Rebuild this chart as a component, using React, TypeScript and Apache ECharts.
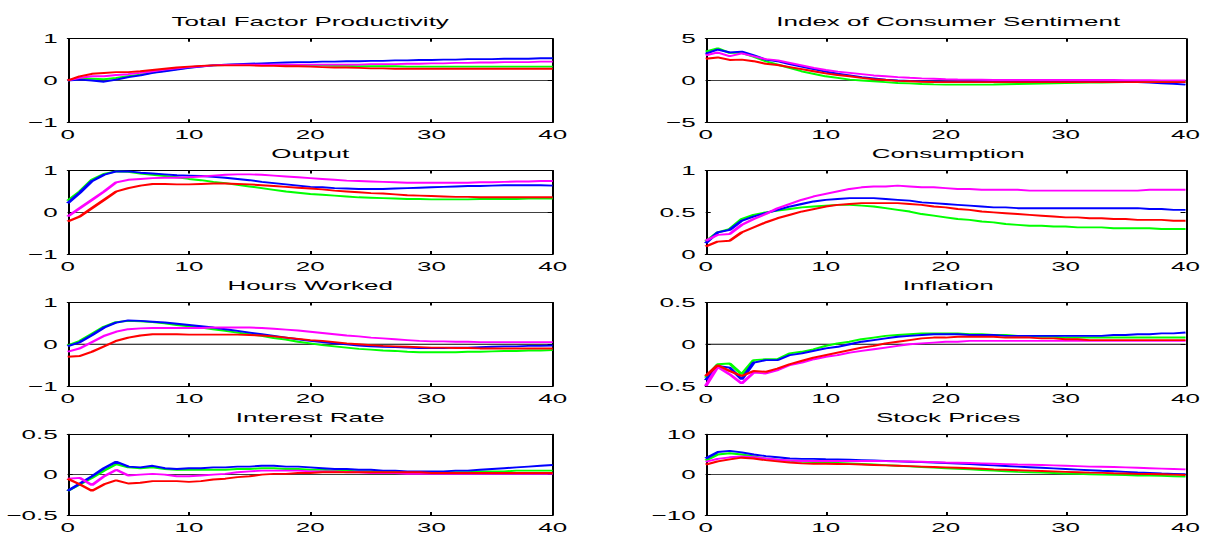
import React, { useEffect, useRef } from "react";
import * as echarts from "echarts";

// Horizons 0..40
const horizons: number[] = Array.from({ length: 41 }, (_, i) => i);

const titles: string[] = [
  "Total Factor Productivity",
  "Index of Consumer Sentiment",
  "Output",
  "Consumption",
  "Hours Worked",
  "Inflation",
  "Interest Rate",
  "Stock Prices",
];

// y-axis ranges (min, max, interval) per panel
const yMins: number[] = [-1, -5, -1, 0, -1, -0.5, -0.5, -10];
const yMaxs: number[] = [1, 5, 1, 1, 1, 0.5, 0.5, 10];
const yIntervals: number[] = [1, 5, 1, 0.5, 1, 0.5, 0.5, 10];
const xTicks: number[] = [0, 10, 20, 30, 40];

// ---- Total Factor Productivity ----
const tfpGreen = [0, .04, .04, .03, .06, .10, .14, .19, .23, .27, .31, .34, .36, .37, .38, .38, .38, .38, .37, .37, .36, .36, .35, .35, .34, .34, .34, .34, .33, .33, .33, .33, .33, .33, .33, .33, .33, .33, .33, .33, .33];
const tfpBlue = [0, .02, 0, -.03, .02, .08, .12, .18, .22, .26, .30, .33, .36, .38, .39, .40, .41, .42, .43, .44, .44, .45, .45, .46, .46, .47, .47, .48, .48, .49, .49, .50, .50, .51, .51, .51, .52, .52, .52, .53, .53];
const tfpMagenta = [0, .06, .10, .10, .13, .15, .18, .22, .26, .29, .32, .34, .36, .37, .38, .38, .38, .38, .38, .38, .38, .38, .38, .38, .38, .39, .39, .39, .40, .40, .41, .41, .42, .42, .43, .43, .44, .44, .44, .45, .45];
const tfpRed = [0, .10, .16, .18, .20, .20, .22, .25, .28, .31, .33, .35, .36, .36, .36, .36, .35, .35, .34, .34, .33, .32, .31, .31, .30, .29, .29, .28, .28, .28, .28, .28, .28, .28, .28, .28, .28, .28, .28, .28, .28];

// ---- Index of Consumer Sentiment ----
const icsGreen = [3.45, 3.85, 3.3, 3.3, 2.85, 2.3, 1.9, 1.5, 1.1, 0.8, 0.5, 0.3, 0.1, 0.0, -0.1, -0.2, -0.3, -0.35, -0.42, -0.47, -0.5, -0.5, -0.5, -0.5, -0.48, -0.45, -0.42, -0.4, -0.37, -0.33, -0.3, -0.28, -0.26, -0.24, -0.22, -0.2, -0.18, -0.17, -0.16, -0.15, -0.15];
const icsBlue = [3.2, 3.7, 3.35, 3.45, 3.0, 2.5, 2.3, 1.95, 1.65, 1.35, 1.05, 0.8, 0.6, 0.4, 0.25, 0.1, 0.0, -0.05, -0.1, -0.12, -0.15, -0.15, -0.14, -0.13, -0.12, -0.1, -0.09, -0.08, -0.07, -0.06, -0.05, -0.06, -0.08, -0.1, -0.13, -0.16, -0.2, -0.26, -0.33, -0.4, -0.5];
const icsMagenta = [3.0, 3.35, 2.9, 3.25, 2.9, 2.55, 2.4, 2.1, 1.8, 1.5, 1.25, 1.05, 0.9, 0.75, 0.6, 0.5, 0.4, 0.32, 0.25, 0.2, 0.15, 0.12, 0.1, 0.08, 0.06, 0.05, 0.05, 0.05, 0.05, 0.05, 0.05, 0.05, 0.05, 0.05, 0.05, 0.04, 0.03, 0.02, 0.01, 0.0, 0.0];
const icsRed = [2.6, 2.75, 2.45, 2.5, 2.3, 2.0, 1.85, 1.6, 1.35, 1.1, 0.85, 0.65, 0.5, 0.3, 0.15, 0.05, -0.05, -0.1, -0.15, -0.18, -0.2, -0.2, -0.2, -0.2, -0.2, -0.2, -0.2, -0.2, -0.2, -0.2, -0.2, -0.2, -0.2, -0.2, -0.2, -0.2, -0.2, -0.2, -0.2, -0.2, -0.2];

// ---- Output ----
const outGreen = [.28, .5, .78, .92, .98, .97, .93, .90, .87, .84, .80, .77, .73, .70, .66, .62, .58, .54, .50, .47, .44, .42, .40, .38, .36, .35, .34, .33, .32, .32, .31, .31, .31, .31, .32, .32, .32, .32, .33, .33, .33];
const outBlue = [.22, .47, .75, .90, .98, .98, .95, .93, .91, .89, .88, .87, .85, .83, .80, .77, .73, .70, .67, .64, .61, .60, .58, .57, .56, .56, .56, .57, .58, .59, .60, .61, .62, .63, .63, .64, .65, .65, .65, .65, .64];
const outMagenta = [-.1, .1, .3, .5, .72, .78, .80, .82, .83, .83, .84, .86, .88, .90, .91, .91, .90, .88, .86, .84, .82, .80, .78, .76, .75, .74, .73, .72, .71, .71, .71, .71, .71, .71, .72, .72, .73, .74, .74, .75, .75];
const outRed = [-.22, -.1, .1, .3, .5, .58, .64, .68, .68, .67, .67, .68, .69, .69, .68, .67, .65, .63, .61, .59, .57, .55, .52, .50, .48, .46, .45, .43, .41, .40, .39, .38, .37, .37, .36, .36, .36, .36, .36, .36, .36];

// ---- Consumption ----
const conGreen = [.15, .26, .30, .42, .47, .50, .52, .54, .56, .57, .58, .59, .59, .58, .57, .55, .53, .51, .48, .46, .44, .42, .41, .39, .38, .36, .35, .34, .34, .33, .33, .32, .32, .32, .31, .31, .31, .31, .30, .30, .30];
const conBlue = [.13, .26, .29, .40, .45, .49, .53, .57, .60, .63, .65, .66, .67, .67, .67, .66, .65, .64, .62, .61, .60, .59, .58, .57, .56, .56, .55, .55, .55, .55, .55, .55, .55, .55, .55, .55, .55, .54, .54, .53, .53];
const conMagenta = [.16, .23, .24, .35, .42, .48, .55, .60, .65, .69, .72, .75, .78, .80, .81, .81, .82, .81, .80, .80, .79, .78, .78, .77, .77, .77, .77, .76, .76, .76, .76, .76, .76, .76, .76, .76, .76, .77, .77, .77, .77];
const conRed = [.09, .15, .16, .26, .32, .38, .43, .47, .51, .54, .57, .59, .60, .61, .61, .61, .61, .60, .59, .57, .56, .54, .53, .51, .50, .49, .48, .47, .46, .45, .44, .44, .43, .43, .42, .42, .41, .41, .41, .40, .40];

// ---- Hours Worked ----
const hrsGreen = [-.03, .08, .25, .42, .53, .56, .55, .53, .50, .46, .43, .40, .36, .32, .28, .24, .20, .15, .11, .06, .02, -.02, -.05, -.08, -.11, -.13, -.15, -.16, -.18, -.19, -.19, -.19, -.19, -.18, -.18, -.17, -.16, -.16, -.15, -.15, -.14];
const hrsBlue = [-.05, .05, .22, .40, .52, .57, .56, .54, .52, .49, .46, .43, .40, .36, .32, .28, .24, .20, .16, .12, .08, .05, .02, 0, -.03, -.05, -.06, -.07, -.08, -.09, -.09, -.09, -.08, -.08, -.07, -.06, -.05, -.05, -.04, -.04, -.03];
const hrsMagenta = [-.18, -.10, .05, .20, .30, .36, .38, .39, .39, .39, .39, .39, .40, .40, .40, .40, .39, .37, .35, .33, .30, .27, .24, .21, .19, .16, .14, .12, .10, .08, .07, .07, .06, .06, .05, .05, .05, .05, .05, .05, .05];
const hrsRed = [-.30, -.28, -.18, -.05, .08, .16, .21, .24, .24, .24, .23, .23, .23, .23, .23, .22, .21, .19, .16, .13, .10, .08, .05, .02, 0, -.02, -.04, -.05, -.06, -.07, -.08, -.08, -.09, -.09, -.10, -.10, -.10, -.10, -.10, -.10, -.10];

// ---- Inflation ----
const infGreen = [-.40, -.24, -.23, -.36, -.19, -.18, -.18, -.11, -.09, -.06, -.02, .01, .03, .06, .08, .10, .11, .12, .13, .13, .13, .13, .12, .12, .11, .11, .10, .10, .09, .09, .08, .08, .08, .08, .08, .08, .08, .08, .08, .08, .08];
const infBlue = [-.43, -.26, -.28, -.42, -.22, -.19, -.19, -.13, -.11, -.08, -.05, -.03, 0, .03, .05, .07, .09, .10, .11, .12, .12, .12, .11, .11, .11, .10, .10, .10, .10, .10, .10, .10, .10, .10, .11, .11, .12, .12, .13, .13, .14];
const infMagenta = [-.50, -.27, -.36, -.47, -.34, -.35, -.31, -.25, -.22, -.18, -.15, -.13, -.10, -.08, -.06, -.04, -.02, 0, .01, .02, .03, .03, .04, .04, .04, .04, .04, .04, .04, .04, .04, .04, .04, .04, .04, .04, .04, .04, .04, .04, .04];
const infRed = [-.38, -.25, -.32, -.38, -.32, -.33, -.29, -.24, -.20, -.16, -.13, -.10, -.07, -.04, -.02, .01, .03, .05, .07, .08, .08, .09, .09, .09, .09, .08, .08, .08, .07, .07, .06, .06, .05, .05, .05, .05, .05, .05, .05, .05, .05];

// ---- Interest Rate ----
const irGreen = [-.20, -.12, -.04, .05, .13, .09, .08, .09, .07, .06, .06, .06, .06, .06, .07, .07, .08, .08, .07, .07, .06, .06, .05, .05, .04, .04, .04, .04, .03, .03, .03, .03, .03, .03, .04, .04, .04, .05, .05, .05, .05];
const irBlue = [-.20, -.11, -.02, .08, .16, .10, .09, .11, .08, .07, .08, .08, .09, .09, .10, .10, .11, .11, .10, .10, .09, .08, .07, .07, .06, .06, .05, .05, .04, .04, .04, .04, .05, .05, .06, .07, .08, .09, .10, .11, .12];
const irMagenta = [-.05, -.04, -.13, -.02, .06, -.01, 0, .01, 0, -.02, -.02, -.01, 0, .01, .03, .04, .05, .05, .05, .05, .04, .04, .04, .03, .03, .02, .02, .02, .01, .01, .01, .01, .01, .01, .01, .01, .01, .01, .01, .01, .01];
const irRed = [-.05, -.12, -.20, -.12, -.07, -.11, -.10, -.08, -.08, -.08, -.09, -.08, -.06, -.05, -.03, -.02, 0, .01, .01, .02, .02, .03, .03, .03, .03, .03, .03, .03, .03, .03, .02, .02, .02, .02, .02, .02, .02, .02, .02, .02, .02];

// ---- Stock Prices ----
const spGreen = [3.5, 5.0, 5.3, 5.0, 4.5, 4.0, 3.7, 3.4, 3.2, 3.1, 3.0, 2.9, 2.8, 2.65, 2.5, 2.35, 2.2, 2.05, 1.9, 1.75, 1.6, 1.45, 1.3, 1.15, 1.0, 0.85, 0.7, 0.6, 0.5, 0.4, 0.3, 0.2, 0.1, 0.0, -0.05, -0.1, -0.2, -0.25, -0.3, -0.4, -0.5];
const spBlue = [4.0, 5.6, 5.9, 5.5, 5.0, 4.6, 4.3, 4.0, 3.9, 3.9, 3.8, 3.75, 3.7, 3.6, 3.5, 3.4, 3.3, 3.2, 3.1, 3.0, 2.9, 2.75, 2.6, 2.45, 2.3, 2.15, 2.0, 1.85, 1.7, 1.55, 1.4, 1.25, 1.1, 0.95, 0.85, 0.7, 0.55, 0.45, 0.3, 0.2, 0.1];
const spMagenta = [3.2, 3.9, 4.3, 4.5, 4.3, 4.0, 3.7, 3.5, 3.4, 3.4, 3.4, 3.4, 3.4, 3.4, 3.4, 3.35, 3.3, 3.25, 3.2, 3.1, 3.0, 2.95, 2.9, 2.8, 2.7, 2.6, 2.5, 2.45, 2.4, 2.3, 2.2, 2.1, 2.0, 1.95, 1.9, 1.8, 1.7, 1.6, 1.5, 1.4, 1.3];
const spRed = [2.5, 3.3, 3.8, 4.2, 4.0, 3.6, 3.3, 3.0, 2.8, 2.7, 2.7, 2.65, 2.6, 2.5, 2.4, 2.3, 2.2, 2.1, 2.0, 1.9, 1.8, 1.7, 1.6, 1.45, 1.3, 1.2, 1.1, 1.0, 0.9, 0.8, 0.7, 0.6, 0.5, 0.45, 0.35, 0.3, 0.2, 0.15, 0.1, 0.0, -0.1];

const panelSeries: number[][][] = [
  [tfpGreen, tfpBlue, tfpMagenta, tfpRed],
  [icsGreen, icsBlue, icsMagenta, icsRed],
  [outGreen, outBlue, outMagenta, outRed],
  [conGreen, conBlue, conMagenta, conRed],
  [hrsGreen, hrsBlue, hrsMagenta, hrsRed],
  [infGreen, infBlue, infMagenta, infRed],
  [irGreen, irBlue, irMagenta, irRed],
  [spGreen, spBlue, spMagenta, spRed],
];
const seriesNames: string[] = ["green", "blue", "magenta", "red"];
const seriesColors: string[] = ["#00ff00", "#0000ff", "#ff00ff", "#ff0000"];

const FONT = '"Liberation Sans", Helvetica, Arial, sans-serif';

export default function App() {
  const ref = useRef<HTMLDivElement>(null);

  useEffect(() => {
    if (!ref.current) return;
    const chart = echarts.init(ref.current, undefined, { renderer: "svg" });

    // chart drawn at half width, then stretched 2x horizontally (like the reference)
    const colLeft = [33.85, 352.85];
    const plotW = 242.5;
    const rowTop = [38.7, 170.6, 302.5, 434.3];
    const plotH = 83.5;

    const grids: any[] = [];
    const xAxes: any[] = [];
    const yAxes: any[] = [];
    const series: any[] = [];
    const graphics: any[] = [];
    const fmt = (v: number) => String(v).replace("-", "\u2212");

    titles.forEach((title, i) => {
      const col = i % 2;
      const row = Math.floor(i / 2);
      const left = colLeft[col];
      const top = rowTop[row];
      grids.push({ left, top, width: plotW, height: plotH, containLabel: false });

      const axLine = { show: true, onZero: false, lineStyle: { color: "#000", width: 1 } };
      const common = { gridIndex: i, type: "value", splitLine: { show: false } };
      xAxes.push({
        ...common,
        min: 0,
        max: 40,
        interval: 10,
        position: "bottom",
        axisLine: axLine,
        axisTick: { show: true, inside: true, length: 3, lineStyle: { color: "#000" } },
        axisLabel: { margin: 6, color: "#000", fontSize: 13, fontFamily: FONT, formatter: fmt },
      });
      xAxes.push({
        ...common,
        min: 0,
        max: 40,
        interval: 10,
        position: "top",
        axisLine: axLine,
        axisTick: { show: true, inside: true, length: 3, lineStyle: { color: "#000" } },
        axisLabel: { show: false },
      });
      yAxes.push({
        ...common,
        min: yMins[i],
        max: yMaxs[i],
        interval: yIntervals[i],
        position: "left",
        axisLine: axLine,
        axisTick: { show: true, inside: true, length: 2.5, lineStyle: { color: "#000" } },
        axisLabel: { margin: 5, color: "#000", fontSize: 13, fontFamily: FONT, formatter: fmt },
      });
      yAxes.push({
        ...common,
        min: yMins[i],
        max: yMaxs[i],
        interval: yIntervals[i],
        position: "right",
        axisLine: axLine,
        axisTick: { show: true, inside: true, length: 2.5, lineStyle: { color: "#000" } },
        axisLabel: { show: false },
      });

      if (yMins[i] < 0) {
        series.push({
          name: "zero",
          type: "line",
          xAxisIndex: i * 2,
          yAxisIndex: i * 2,
          data: [
            [xTicks[0], 0],
            [xTicks[xTicks.length - 1], 0],
          ],
          symbol: "none",
          silent: true,
          lineStyle: { color: "#000", width: 0.8 },
          z: 1,
        });
      }

      panelSeries[i].forEach((vals, k) => {
        series.push({
          name: seriesNames[k],
          type: "line",
          xAxisIndex: i * 2,
          yAxisIndex: i * 2,
          data: horizons.map((h) => [h, vals[h]]),
          symbol: "none",
          silent: true,
          lineStyle: { color: seriesColors[k], width: 1.9 },
          z: 2 + k,
        });
      });

      graphics.push({
        type: "text",
        x: left + plotW / 2,
        y: top - 17.5,
        silent: true,
        style: {
          text: title,
          fill: "#000",
          font: `13px ${FONT}`,
          align: "center",
          verticalAlign: "middle",
        },
      });
    });

    chart.setOption({
      animation: false,
      backgroundColor: "#fff",
      grid: grids,
      xAxis: xAxes,
      yAxis: yAxes,
      series,
      graphic: graphics,
    });

    return () => {
      chart.dispose();
    };
  }, []);

  return (
    <div
      style={{
        position: "absolute",
        left: 0,
        top: 0,
        width: 1206,
        height: 534,
        overflow: "hidden",
        background: "#fff",
      }}
    >
      <div
        ref={ref}
        style={{
          width: 603,
          height: 534,
          transform: "scaleX(2)",
          transformOrigin: "0 0",
        }}
      />
    </div>
  );
}
